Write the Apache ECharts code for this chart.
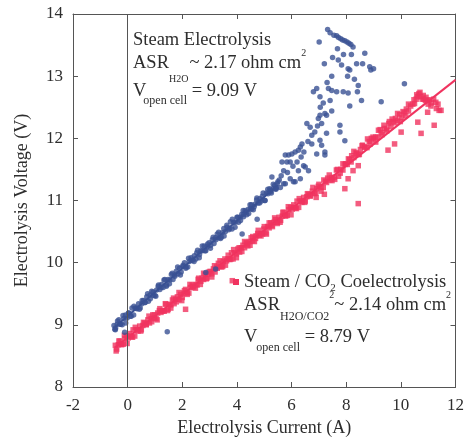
<!DOCTYPE html>
<html><head><meta charset="utf-8">
<script src="https://cdn.jsdelivr.net/npm/echarts@6/dist/echarts.min.js"></script>
<style>html,body{margin:0;padding:0;background:#fff}#c{width:467px;height:442px}</style>
</head><body><div id="c"></div>
<script>
// ---------------- DATA ----------------
const xTicks = [-2, 0, 2, 4, 6, 8, 10, 12];
const yTicks = [8, 9, 10, 11, 12, 13, 14];
const xTitle = 'Electrolysis Current (A)';
const yTitle = 'Electrolysis Voltage (V)';

// Steam / CO2 coelectrolysis (red squares)
const redBand = [[-0.45,8.67],[-0.40,8.61],[-0.34,8.68],[-0.28,8.74],[-0.22,8.69],[-0.16,8.69],[-0.10,8.78],[-0.04,8.82],[0.02,8.79],[0.08,8.82],[0.14,8.81],[0.20,8.92],[0.26,8.82],[0.32,8.92],[0.38,8.90],[0.44,8.98],[0.50,8.92],[0.56,8.99],[0.62,9.03],[0.68,9.00],[0.74,9.08],[0.80,9.03],[0.86,9.10],[0.92,9.16],[0.98,9.11],[1.04,9.10],[1.10,9.19],[1.16,9.23],[1.22,9.20],[1.28,9.23],[1.34,9.22],[1.40,9.33],[1.46,9.23],[1.52,9.33],[1.58,9.32],[1.64,9.40],[1.70,9.34],[1.76,9.41],[1.82,9.45],[1.88,9.41],[1.94,9.49],[2.00,9.44],[2.06,9.51],[2.12,9.57],[2.18,9.52],[2.24,9.51],[2.30,9.60],[2.36,9.64],[2.42,9.61],[2.48,9.65],[2.54,9.64],[2.60,9.75],[2.66,9.65],[2.72,9.75],[2.78,9.73],[2.84,9.81],[2.90,9.75],[2.96,9.82],[3.02,9.86],[3.08,9.82],[3.14,9.90],[3.20,9.85],[3.26,9.93],[3.32,9.99],[3.38,9.94],[3.44,9.93],[3.50,10.02],[3.56,10.06],[3.62,10.03],[3.68,10.06],[3.74,10.05],[3.80,10.16],[3.86,10.06],[3.92,10.16],[3.98,10.14],[4.04,10.22],[4.10,10.17],[4.16,10.24],[4.22,10.28],[4.28,10.24],[4.34,10.32],[4.40,10.27],[4.46,10.34],[4.52,10.40],[4.58,10.35],[4.64,10.34],[4.70,10.43],[4.76,10.47],[4.82,10.44],[4.88,10.47],[4.94,10.46],[5.00,10.58],[5.06,10.48],[5.12,10.58],[5.18,10.56],[5.24,10.64],[5.30,10.58],[5.36,10.65],[5.42,10.69],[5.48,10.65],[5.54,10.73],[5.60,10.68],[5.66,10.75],[5.72,10.81],[5.78,10.76],[5.84,10.76],[5.90,10.85],[5.96,10.89],[6.02,10.86],[6.08,10.89],[6.14,10.88],[6.20,10.99],[6.26,10.89],[6.32,10.99],[6.38,10.97],[6.44,11.05],[6.50,10.99],[6.56,11.06],[6.62,11.10],[6.68,11.07],[6.76,11.15],[6.84,11.11],[6.92,11.19],[7.00,11.26],[7.08,11.21],[7.16,11.21],[7.24,11.31],[7.32,11.36],[7.40,11.33],[7.48,11.37],[7.56,11.37],[7.64,11.49],[7.72,11.39],[7.80,11.50],[7.88,11.49],[7.96,11.58],[8.04,11.58],[8.12,11.66],[8.20,11.72],[8.28,11.69],[8.36,11.77],[8.44,11.74],[8.52,11.82],[8.60,11.89],[8.68,11.86],[8.76,11.85],[8.84,11.95],[8.92,12.00],[9.00,11.99],[9.08,12.02],[9.16,12.02],[9.24,12.14],[9.32,12.06],[9.40,12.16],[9.48,12.15],[9.56,12.24],[9.64,12.19],[9.72,12.27],[9.80,12.32],[9.88,12.29],[9.96,12.38],[10.04,12.33],[10.12,12.41],[10.20,12.47],[10.28,12.44],[10.36,12.52],[10.44,12.55],[10.50,12.56],[10.56,12.63],[10.62,12.67],[10.66,12.72],[10.72,12.67],[10.78,12.63],[10.84,12.63],[10.90,12.61],[10.96,12.61],[11.04,12.62],[11.12,12.57],[11.20,12.63],[11.28,12.58],[10.48,12.62],[10.58,12.70],[10.70,12.74],[10.82,12.69],[10.92,12.66],[11.00,12.55],[11.10,12.52],[11.30,12.48],[11.36,12.55]];
const redBand2 = [[-0.42,8.58],[-0.32,8.74],[-0.22,8.68],[-0.12,8.83],[-0.02,8.70],[0.08,8.86],[0.18,8.80],[0.28,8.96],[0.38,8.92],[0.48,8.90],[0.58,9.04],[0.68,9.01],[0.78,9.14],[0.88,9.05],[0.98,9.16],[1.08,9.08],[1.18,9.26],[1.28,9.22],[1.38,9.34],[1.48,9.25],[1.58,9.27],[1.68,9.43],[1.78,9.37],[1.88,9.52],[1.98,9.39],[2.08,9.55],[2.18,9.49],[2.28,9.65],[2.38,9.61],[2.48,9.59],[2.58,9.73],[2.68,9.70],[2.78,9.83],[2.88,9.74],[2.98,9.85],[3.08,9.77],[3.18,9.95],[3.28,9.91],[3.38,10.03],[3.48,9.94],[3.58,9.96],[3.68,10.12],[3.78,10.06],[3.88,10.21],[3.98,10.08],[4.08,10.24],[4.18,10.18],[4.28,10.34],[4.38,10.30],[4.48,10.28],[4.58,10.42],[4.68,10.39],[4.78,10.52],[4.88,10.43],[4.98,10.54],[5.08,10.46],[5.18,10.64],[5.28,10.60],[5.38,10.72],[5.48,10.63],[5.58,10.65],[5.68,10.81],[5.78,10.75],[5.88,10.90],[5.98,10.77],[6.08,10.93],[6.18,10.87],[6.28,11.03],[6.38,10.99],[6.48,10.97],[6.58,11.11],[6.68,11.08],[6.78,11.21],[6.88,11.12],[6.98,11.23],[7.08,11.15],[7.18,11.33],[7.28,11.29],[7.38,11.41],[7.48,11.32],[7.58,11.34],[7.68,11.50],[7.78,11.44],[7.88,11.59],[7.98,11.59],[8.08,11.67],[8.18,11.62],[8.28,11.79],[8.38,11.75],[8.48,11.74],[8.58,11.88],[8.68,11.86],[8.78,11.99],[8.88,11.91],[8.98,12.02],[9.08,11.94],[9.18,12.13],[9.28,12.09],[9.38,12.21],[9.48,12.12],[9.58,12.27],[9.68,12.31],[9.78,12.25],[9.88,12.40],[9.98,12.27],[10.08,12.43],[10.18,12.37],[10.28,12.55]];
const redScatter = [[2.12,9.25],[3.83,9.71],[6.90,11.05],[7.20,11.10],[7.95,11.19],[8.44,10.95],[8.07,11.35],[8.25,11.48],[8.44,11.56],[9.53,11.81],[9.77,11.91],[10.01,12.10],[10.62,12.26],[10.74,12.08],[11.22,12.21],[10.98,12.42],[11.40,12.45],[11.47,12.45]];

// Steam electrolysis (blue circles)
const blueBand = [[-0.50,8.99],[-0.44,8.95],[-0.38,9.01],[-0.32,9.08],[-0.26,9.01],[-0.20,9.00],[-0.14,9.10],[-0.08,9.16],[-0.02,9.11],[0.04,9.19],[0.10,9.14],[0.16,9.27],[0.22,9.16],[0.28,9.27],[0.34,9.26],[0.40,9.34],[0.46,9.27],[0.52,9.34],[0.58,9.39],[0.64,9.36],[0.70,9.45],[0.76,9.38],[0.82,9.48],[0.88,9.54],[0.94,9.47],[1.00,9.47],[1.06,9.56],[1.12,9.62],[1.18,9.57],[1.24,9.65],[1.30,9.60],[1.36,9.73],[1.42,9.62],[1.48,9.73],[1.54,9.72],[1.60,9.81],[1.66,9.73],[1.72,9.80],[1.78,9.86],[1.84,9.82],[1.90,9.91],[1.96,9.85],[2.02,9.94],[2.08,10.00],[2.14,9.93],[2.20,9.93],[2.26,10.02],[2.32,10.08],[2.38,10.04],[2.44,10.11],[2.50,10.06],[2.56,10.20],[2.62,10.08],[2.68,10.19],[2.74,10.19],[2.80,10.27],[2.86,10.19],[2.92,10.26],[2.98,10.32],[3.04,10.28],[3.10,10.37],[3.16,10.31],[3.22,10.40],[3.28,10.46],[3.34,10.40],[3.40,10.39],[3.46,10.48],[3.52,10.55],[3.58,10.50],[3.64,10.57],[3.70,10.53],[3.76,10.66],[3.82,10.54],[3.88,10.65],[3.94,10.65],[4.00,10.73],[4.06,10.65],[4.12,10.73],[4.18,10.78],[4.24,10.74],[4.30,10.84],[4.36,10.77],[4.42,10.86],[4.48,10.93],[4.54,10.86],[4.60,10.85],[4.66,10.94],[4.72,11.01],[4.78,10.96],[4.84,11.03],[4.90,10.99],[4.96,11.12],[5.02,11.00],[5.08,11.12],[5.14,11.11],[5.20,11.19],[5.26,11.12],[5.32,11.19],[5.38,11.24],[5.44,11.20],[5.50,11.30]];
const blueBand2 = [[-0.47,8.93],[-0.37,9.06],[-0.27,9.01],[-0.17,9.15],[-0.07,9.03],[0.03,9.19],[0.13,9.14],[0.23,9.30],[0.33,9.27],[0.43,9.25],[0.53,9.39],[0.63,9.36],[0.73,9.50],[0.83,9.42],[0.93,9.53],[1.03,9.46],[1.13,9.64],[1.23,9.60],[1.33,9.72],[1.43,9.64],[1.53,9.66],[1.63,9.83],[1.73,9.78],[1.83,9.93],[1.93,9.80],[2.03,9.96],[2.13,9.91],[2.23,10.07],[2.33,10.04],[2.43,10.02],[2.53,10.16],[2.63,10.13],[2.73,10.27],[2.83,10.19],[2.93,10.30],[3.03,10.23],[3.13,10.41],[3.23,10.37],[3.33,10.49],[3.43,10.41],[3.53,10.43],[3.63,10.60],[3.73,10.55],[3.83,10.70],[3.93,10.57],[4.03,10.73],[4.13,10.68],[4.23,10.84],[4.33,10.81],[4.43,10.79],[4.53,10.93],[4.63,10.90],[4.73,11.04],[4.83,10.96],[4.93,11.07],[5.03,11.00],[5.13,11.18],[5.23,11.14],[5.33,11.26],[5.43,11.18]];
const blueOff = [[-0.11,8.88],[-0.45,8.92],[1.45,8.89],[2.86,9.84],[3.22,9.90],[4.19,10.46],[4.25,10.78],[4.50,10.87],[4.74,10.70]];
const blueUpper = [[7.32,13.75],[7.41,13.70],[7.55,13.66],[7.65,13.65],[7.72,13.62],[7.80,13.60],[7.87,13.58],[7.95,13.57],[8.03,13.55],[8.10,13.53],[8.17,13.51],[8.25,13.47],[7.01,13.55],[7.68,13.44],[8.19,13.35],[8.68,13.37],[7.20,13.20],[7.71,13.26],[7.83,13.18],[8.07,13.12],[8.13,13.10],[8.38,13.20],[8.86,13.15],[8.90,13.10],[7.47,13.00],[8.44,12.85],[10.13,12.88],[6.92,12.80],[6.80,12.75],[7.35,12.80],[7.47,12.77],[7.65,12.75],[7.89,12.75],[8.07,12.73],[8.41,12.75],[7.04,12.67],[7.41,12.61],[7.16,12.57],[8.56,12.61],[9.28,12.59],[8.13,12.52],[7.47,12.44],[7.22,12.40],[7.04,12.37],[6.98,12.32],[7.28,12.37],[6.56,12.24],[6.68,12.18],[7.10,12.24],[7.77,12.21],[7.77,12.10],[6.74,12.05],[7.28,12.08],[7.95,11.96],[6.38,11.91],[6.32,11.86],[6.25,11.81],[6.13,11.78],[6.01,11.75],[5.89,11.73],[6.74,11.91],[7.04,11.97],[7.10,11.89],[6.92,11.75],[7.22,11.78],[7.22,11.73],[5.77,11.73],[5.65,11.62],[5.83,11.62],[5.95,11.62],[6.44,11.56],[6.50,11.54],[6.62,11.48],[5.71,11.48],[5.28,11.38],[6.25,11.48],[6.32,11.35],[5.95,11.35],[6.07,11.30],[5.71,11.27],[5.59,11.21],[5.41,11.19],[5.22,11.16],[5.47,11.27],[5.77,11.27],[6.13,11.30],[5.55,11.33],[5.62,11.40],[5.85,11.45],[6.05,11.55],[6.20,11.62],[6.35,11.70],[6.45,11.78],[6.60,11.95],[6.85,12.10],[6.95,12.20],[7.05,12.50],[7.30,12.90],[7.50,13.30],[7.90,13.35],[8.60,13.20],[8.05,13.00],[8.30,12.95],[9.00,13.12]];

// linear fits
const redFit = [[-0.45, 8.64], [12, 12.94]];
const blueFit = [[-0.45, 8.97], [5.5, 11.25]];

// annotation texts
const steamText = ['Steam Electrolysis', 'ASR', 'H2O', '~ 2.17 ohm cm', '2', 'V', 'open cell', ' = 9.09 V'];
const coText = ['Steam / CO', '2', ' Coelectrolysis', 'ASR', 'H2O/CO2', '2', '~ 2.14 ohm cm', '2', 'V', 'open cell', ' = 8.79 V'];

// ---------------- CHART ----------------
const RED = '#f0335f', BLUE = '#3a5194', TXT = '#2e2e2e', AX = '#555';
const SERIF = '"Liberation Serif", "Times New Roman", serif';
const mctx = document.createElement('canvas').getContext('2d');
function tw(t, fs) { mctx.font = fs + 'px ' + SERIF; return mctx.measureText(t).width; }
function runLine(x, yc, parts) {
  const els = []; let cx = x;
  parts.forEach(p => {
    els.push({ type: 'text', x: cx, y: yc + (p.dy || 0), z: 100,
      style: { text: p.t, font: p.fs + 'px ' + SERIF, fill: TXT, verticalAlign: 'middle', align: 'left' } });
    cx += tw(p.t, p.fs) + (p.gap || 0);
  });
  return els;
}
const F = 18.5;
const graphics = [].concat(
  runLine(133, 40, [{ t: steamText[0], fs: F }]),
  runLine(133, 63, [{ t: steamText[1], fs: F }, { t: steamText[2], fs: 10, dy: 16, gap: 1 }, { t: steamText[3], fs: F }, { t: steamText[4], fs: 10, dy: -10 }]),
  runLine(133, 91, [{ t: steamText[5], fs: F, gap: -3 }, { t: steamText[6], fs: 12, dy: 10 }, { t: steamText[7], fs: F }]),
  runLine(244, 282, [{ t: coText[0], fs: F }, { t: coText[1], fs: 11, dy: 6 }, { t: coText[2], fs: F }]),
  runLine(244, 305, [{ t: coText[3], fs: F }, { t: coText[4], fs: 12, dy: 12 }, { t: coText[5], fs: 10, dy: -10 }, { t: coText[6], fs: F }, { t: coText[7], fs: 10, dy: -10 }]),
  runLine(244, 337, [{ t: coText[8], fs: F, gap: -1 }, { t: coText[9], fs: 12, dy: 11 }, { t: coText[10], fs: F }]),
  [{ type: 'rect', z: 100, shape: { x: 233, y: 279, width: 6, height: 6 }, style: { fill: RED } }]
);

const axCommon = {
  type: 'value', min: xTicks[0], max: xTicks[xTicks.length - 1], interval: xTicks[1] - xTicks[0],
  splitLine: { show: false },
  axisLine: { show: true, onZero: false, lineStyle: { color: AX, width: 1 } },
  axisTick: { show: true, inside: true, length: 5, lineStyle: { color: AX } }
};
const ayCommon = {
  type: 'value', min: yTicks[0], max: yTicks[yTicks.length - 1], interval: yTicks[1] - yTicks[0],
  splitLine: { show: false },
  axisLine: { show: true, onZero: false, lineStyle: { color: AX, width: 1 } },
  axisTick: { show: true, inside: true, length: 5, lineStyle: { color: AX } }
};
const labelStyle = { color: TXT, fontFamily: SERIF, fontSize: 17 };

const chart = echarts.init(document.getElementById('c'), null, { renderer: 'canvas' });
chart.setOption({
  animation: false,
  backgroundColor: '#fff',
  grid: { left: 73, right: 9, top: 14, bottom: 55 },
  xAxis: [
    Object.assign({}, axCommon, { position: 'bottom', axisLabel: Object.assign({ margin: 10 }, labelStyle),
      name: xTitle, nameLocation: 'middle', nameGap: 32, nameTextStyle: { color: TXT, fontFamily: SERIF, fontSize: 18 } }),
    Object.assign({}, axCommon, { position: 'top', axisLabel: { show: false } })
  ],
  yAxis: [
    Object.assign({}, ayCommon, { position: 'left', axisLabel: Object.assign({ margin: 10 }, labelStyle),
      name: yTitle, nameLocation: 'middle', nameGap: 42, nameTextStyle: { color: TXT, fontFamily: SERIF, fontSize: 18 } }),
    Object.assign({}, ayCommon, { position: 'right', axisLabel: { show: false } })
  ],
  graphic: graphics,
  series: [
    { type: 'line', data: redFit, symbol: 'none', lineStyle: { color: RED, width: 2 }, z: 2,
      markLine: { silent: true, symbol: 'none', label: { show: false }, lineStyle: { color: AX, width: 1, type: 'solid' }, data: [{ xAxis: 0 }] } },
    { type: 'line', data: blueFit, symbol: 'none', lineStyle: { color: BLUE, width: 2 }, z: 2 },
    { type: 'scatter', data: redBand.concat(redBand2, redScatter), symbol: 'rect', symbolSize: 5.5, itemStyle: { color: RED }, z: 3 },
    { type: 'scatter', data: blueBand.concat(blueBand2, blueOff, blueUpper), symbol: 'circle', symbolSize: 5.5, itemStyle: { color: BLUE }, z: 4 }
  ]
});
</script>
</body></html>
